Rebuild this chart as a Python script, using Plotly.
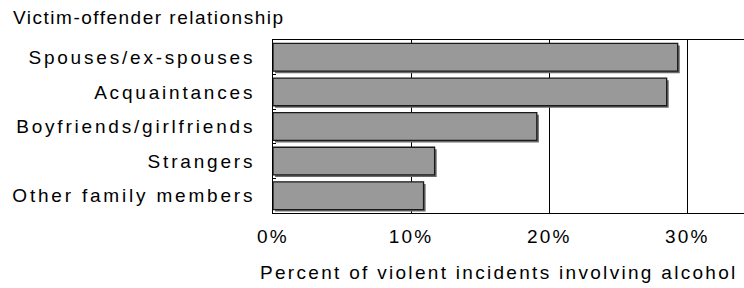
import plotly.graph_objects as go

categories = ["Spouses/ex-spouses", "Acquaintances", "Boyfriends/girlfriends", "Strangers", "Other family members"]
values = [29.3, 28.5, 19.1, 11.7, 10.9]
x_tick_vals = [0, 10, 20, 30]
x_tick_labels = ["0%", "10%", "20%", "30%"]
y_title = "Victim-offender relationship"
x_title = "Percent of violent incidents involving alcohol"


def sp(t, ls):
    return f'<span style="letter-spacing:{ls}px">{t}</span>'


FONT = dict(family="Liberation Sans, Arial, sans-serif", size=19, color="#000")
W = 0.8
PW = 471  # plot width px
PH = 173  # plot height px

fig = go.Figure()
# shadow
fig.add_trace(go.Bar(
    y=categories, x=values, orientation="h", base=0.15,
    width=W, offset=-W / 2 + 0.06,
    marker=dict(color="#6a6a6a", line=dict(width=0)),
    hoverinfo="skip", showlegend=False,
))
# main bars
fig.add_trace(go.Bar(
    y=categories, x=values, orientation="h",
    width=W, offset=-W / 2,
    marker=dict(color="#999999", line=dict(color="#1a1a1a", width=1.3)),
    showlegend=False,
))

fig.update_layout(
    width=744, height=288,
    margin=dict(l=273, r=0, t=40, b=75, autoexpand=False),
    barmode="overlay",
    plot_bgcolor="white", paper_bgcolor="white",
    font=FONT,
    showlegend=False,
    annotations=[
        dict(text=sp(y_title, 1.5), xref="paper", yref="paper", x=(11 - 273) / PW, y=1 + 10 / PH,
             xanchor="left", yanchor="bottom", showarrow=False, font=FONT),
        dict(text=sp(x_title, 2.3), xref="paper", yref="paper", x=(499 - 273) / PW, y=-47 / PH,
             xanchor="center", yanchor="top", showarrow=False, font=FONT),
    ],
)
fig.update_xaxes(
    range=[0, 34.1], tickvals=x_tick_vals, ticktext=[sp(t, 2.2) for t in x_tick_labels],
    showgrid=True, gridcolor="#000", gridwidth=1, zeroline=False,
    showline=True, mirror=True, linecolor="#000", linewidth=1,
    ticks="", ticklabelstandoff=6, tickfont=FONT, automargin=False,
)
fig.update_yaxes(
    autorange="reversed", categoryorder="array", categoryarray=categories,
    tickvals=categories, ticktext=[sp(c, 2.8) for c in categories],
    showline=True, linecolor="#000", linewidth=1, showgrid=False, zeroline=False,
    ticks="inside", tickson="boundaries", ticklen=3, tickcolor="#000",
    ticklabelstandoff=13, tickfont=FONT, automargin=False,
)

fig.write_html(
    "out.html",
    config={"displayModeBar": False},
    post_script="document.body.style.margin='0';document.body.style.padding='0';",
)
